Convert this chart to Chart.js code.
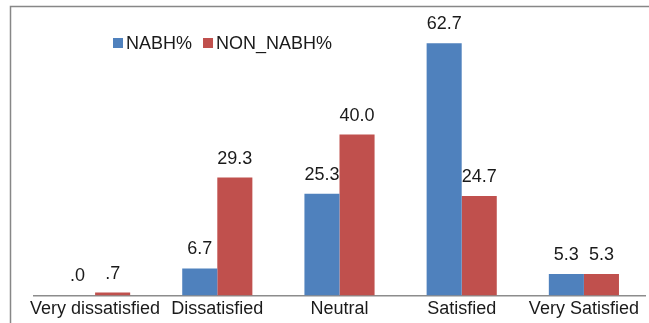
<!DOCTYPE html>
<html>
<head>
<meta charset="utf-8">
<script src="https://cdn.jsdelivr.net/npm/chart.js@4/dist/chart.umd.min.js"></script>
<style>
  html, body { margin: 0; padding: 0; background: #fff; }
  #wrap { width: 649px; height: 323px; position: relative; }
</style>
</head>
<body>
<div id="wrap"><canvas id="c" width="649" height="323"></canvas></div>
<script>
const categories = ['Very dissatisfied', 'Dissatisfied', 'Neutral', 'Satisfied', 'Very Satisfied'];
const nabh = [0.0, 6.7, 25.3, 62.7, 5.3];
const nonNabh = [0.7, 29.3, 40.0, 24.7, 5.3];
const seriesNames = ['NABH%', 'NON_NABH%'];
const seriesColors = ['#4F81BD', '#C0504D'];

const FONT = '"Liberation Sans", Arial, sans-serif';
const TEXT_SIZE = 18;

// Excel-style "#.0" number format: no leading zero below 1
function fmt(v) {
  const s = v.toFixed(1);
  return s.startsWith('0') ? s.slice(1) : s;
}

const framePlugin = {
  id: 'frame',
  beforeDraw(chart) {
    const ctx = chart.ctx;
    ctx.save();
    ctx.fillStyle = '#fff';
    ctx.fillRect(0, 0, chart.width, chart.height);
    ctx.strokeStyle = '#878787';
    ctx.lineWidth = 1.5;
    ctx.beginPath();
    ctx.moveTo(10.5, chart.height);
    ctx.lineTo(10.5, 6.5);
    ctx.lineTo(chart.width, 6.5);
    ctx.stroke();
    ctx.restore();
  }
};

const labelPlugin = {
  id: 'valueLabels',
  afterDatasetsDraw(chart) {
    const ctx = chart.ctx;
    ctx.save();
    ctx.font = TEXT_SIZE + 'px ' + FONT;
    ctx.fillStyle = '#1a1a1a';
    ctx.textAlign = 'center';
    ctx.textBaseline = 'middle';
    chart.data.datasets.forEach((ds, i) => {
      chart.getDatasetMeta(i).data.forEach((bar, j) => {
        ctx.fillText(fmt(ds.data[j]), bar.x, bar.y - 19);
      });
    });
    ctx.restore();
  }
};

const legendPlugin = {
  id: 'sideLegend',
  afterDraw(chart) {
    const ctx = chart.ctx;
    ctx.save();
    ctx.font = TEXT_SIZE + 'px ' + FONT;
    ctx.textBaseline = 'middle';
    ctx.textAlign = 'left';
    let x = 113;
    const y = 43;
    chart.data.datasets.forEach((ds) => {
      ctx.fillStyle = ds.backgroundColor;
      ctx.fillRect(x, y - 5, 10, 10);
      ctx.fillStyle = '#1a1a1a';
      ctx.fillText(ds.label, x + 13, y + 1);
      x += 13 + ctx.measureText(ds.label).width + 11;
    });
    ctx.restore();
  }
};

new Chart(document.getElementById('c'), {
  type: 'bar',
  data: {
    labels: categories,
    datasets: [
      { label: seriesNames[0], data: nabh, backgroundColor: seriesColors[0] },
      { label: seriesNames[1], data: nonNabh, backgroundColor: seriesColors[1] }
    ]
  },
  options: {
    responsive: false,
    animation: false,
    devicePixelRatio: 1,
    layout: { padding: { left: 34, right: 4, top: 14, bottom: 0 } },
    datasets: { bar: { barPercentage: 1, categoryPercentage: 0.574 } },
    plugins: { legend: { display: false }, tooltip: { enabled: false } },
    scales: {
      y: { display: false, min: 0, max: 70 },
      x: {
        grid: { display: false, drawTicks: false, tickLength: 0 },
        border: { display: true, color: '#8c8c8c', width: 1.5 },
        ticks: { color: '#1a1a1a', font: { family: FONT, size: TEXT_SIZE }, padding: 3, maxRotation: 0, autoSkip: false }
      }
    }
  },
  plugins: [framePlugin, labelPlugin, legendPlugin]
});
</script>
</body>
</html>
